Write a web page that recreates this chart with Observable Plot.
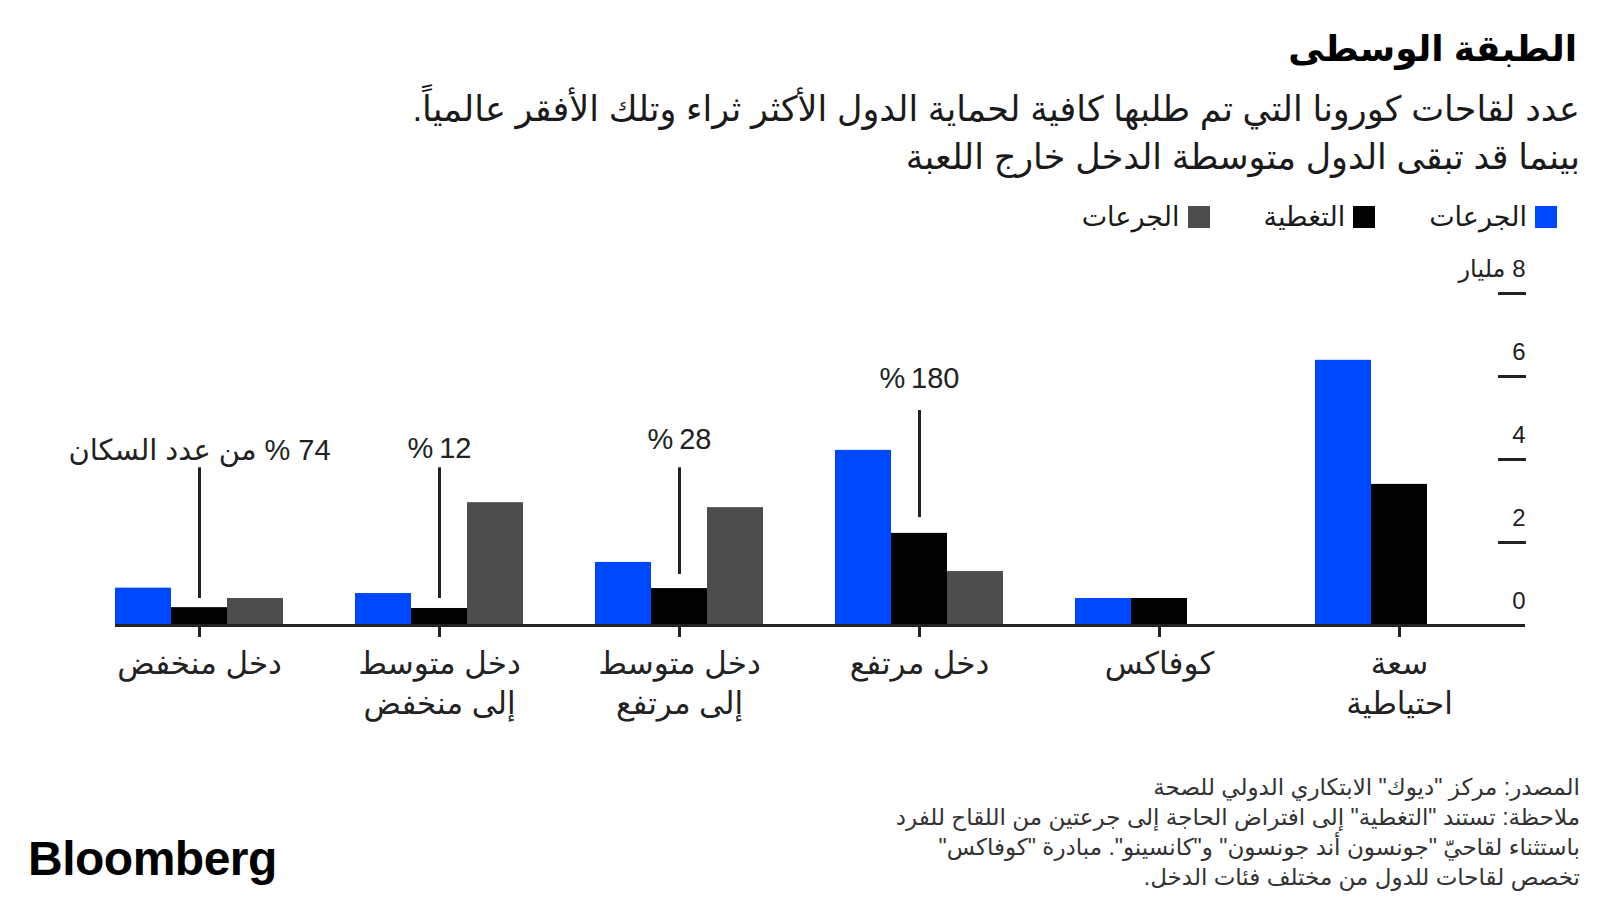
<!DOCTYPE html>
<html lang="ar">
<head>
<meta charset="utf-8">
<script src="https://cdn.jsdelivr.net/npm/d3@7"></script>
<script src="https://cdn.jsdelivr.net/npm/@observablehq/plot@0.6"></script>
<style>
  html, body { margin: 0; padding: 0; background: #fff; }
  #page { position: relative; width: 1600px; height: 900px; overflow: hidden; background: #fff;
          font-family: "Liberation Sans", "DejaVu Sans", sans-serif; color: #1a1a1a; }
  .abs { position: absolute; }
  #title { right: 23px; top: 26px; font-size: 36px; font-weight: 700; line-height: 46px; direction: rtl; color: #000; }
  #subtitle { right: 20px; top: 85px; font-size: 35px; line-height: 48px; direction: rtl; text-align: right; color: #1a1a1a; }
  #legend { right: 43px; top: 203px; display: flex; direction: rtl; gap: 54px; font-size: 27px; line-height: 28px; color: #1a1a1a; }
  .item { display: flex; align-items: center; gap: 8px; }
  .sw { width: 22px; height: 22px; display: inline-block; }
  #chart { left: 0; top: 240px; }
  #notes { right: 20px; top: 772px; font-size: 23px; line-height: 30px; direction: rtl; text-align: right; color: #333; }
  #logo { left: 28px; top: 833px; font-size: 48px; font-weight: 700; line-height: 52px; letter-spacing: -0.5px; color: #000; }
</style>
</head>
<body>
<div id="page">
  <div id="title" class="abs"></div>
  <div id="subtitle" class="abs"></div>
  <div id="legend" class="abs"></div>
  <div id="chart" class="abs"></div>
  <div id="notes" class="abs"></div>
  <div id="logo" class="abs">Bloomberg</div>
</div>
<script>
// ---------- data ----------
const titleText = "الطبقة الوسطى";
const subtitleLines = [
  "عدد لقاحات كورونا التي تم طلبها كافية لحماية الدول الأكثر ثراء وتلك الأفقر عالمياً.",
  "بينما قد تبقى الدول متوسطة الدخل خارج اللعبة"
];
const groups = ["دخل منخفض", "دخل متوسط إلى منخفض", "دخل متوسط إلى مرتفع", "دخل مرتفع", "كوفاكس", "سعة احتياطية"];
const groupTickLabels = ["دخل منخفض", "دخل متوسط\nإلى منخفض", "دخل متوسط\nإلى مرتفع", "دخل مرتفع", "كوفاكس", "سعة\nاحتياطية"];
const seriesKeys = ["doses_blue", "coverage", "doses_gray"];
const seriesLabels = ["الجرعات", "التغطية", "الجرعات"];
const seriesColors = ["#0048ff", "#000000", "#4d4d4d"];
const dosesBlue = [0.90, 0.77, 1.52, 4.22, 0.65, 6.39];
const coverage  = [0.43, 0.41, 0.89, 2.22, 0.65, 3.40];
const dosesGray = [0.65, 2.96, 2.84, 1.30, null, null];
const yTicks = [0, 2, 4, 6, 8];
const yTickLabels = ["0", "2", "4", "6", "8 مليار"];
const annoGroups = ["دخل منخفض", "دخل متوسط إلى منخفض", "دخل متوسط إلى مرتفع", "دخل مرتفع"];
const annoLabels = ["74 % من عدد السكان", "12\u2009%", "28\u2009%", "180\u2009%"];
const annoTop    = [3.80, 3.80, 3.80, 5.18];
const annoBottom = [0.65, 0.65, 1.23, 2.60];
const annoLabelY = [4.20, 4.25, 4.48, 5.95];
const noteLines = [
  "المصدر: مركز \"ديوك\" الابتكاري الدولي للصحة",
  "ملاحظة: تستند \"التغطية\" إلى افتراض الحاجة إلى جرعتين من اللقاح للفرد",
  "باستثناء لقاحيّ \"جونسون أند جونسون\" و\"كانسينو\". مبادرة \"كوفاكس\"",
  "تخصص لقاحات للدول من مختلف فئات الدخل."
];

// ---------- text blocks ----------
document.getElementById("title").textContent = titleText;
document.getElementById("subtitle").innerHTML = subtitleLines.map(s => `<div>${s}</div>`).join("");
document.getElementById("notes").innerHTML = noteLines.map(s => `<div>${s.replace(/"/g, "&quot;")}</div>`).join("");
const legend = document.getElementById("legend");
seriesKeys.forEach((k, i) => {
  const it = document.createElement("div");
  it.className = "item";
  it.innerHTML = `<span class="sw" style="background:${seriesColors[i]}"></span><span>${seriesLabels[i]}</span>`;
  legend.appendChild(it);
});

// ---------- tables ----------
const seriesValues = [dosesBlue, coverage, dosesGray];
const rows = [];
groups.forEach((g, i) => seriesKeys.forEach((k, j) => {
  const v = seriesValues[j][i];
  if (v != null) rows.push({group: g, series: k, value: v});
}));
const annos = annoGroups.map((g, i) => ({
  group: g, series: seriesKeys[1], label: annoLabels[i],
  top: annoTop[i], bottom: annoBottom[i], labelY: annoLabelY[i]
}));
const baseRows = groups.map(g => ({group: g, value: 0}));
const RLE = "\u202B", PDF = "\u202C";
const ink = "#222";
const baseStyle = {fx: "group", y: "value", stroke: ink, strokeWidth: 3};

const chart = Plot.plot({
  width: 1600,
  height: 500,
  marginLeft: 101,
  marginRight: 103,
  marginTop: 53,
  marginBottom: 115,
  style: {fontFamily: '"Liberation Sans", "DejaVu Sans", sans-serif', color: ink, background: "transparent"},
  fx: {domain: groups, paddingInner: 0.3, paddingOuter: 14 / 240, label: null},
  x: {domain: seriesKeys, padding: 0, axis: null},
  y: {domain: [0, 8], axis: null},
  color: {domain: seriesKeys, range: seriesColors},
  marks: [
    Plot.barY(rows, {fx: "group", x: "series", y: "value", fill: "series"}),
    // baseline: continuous across facet gaps
    Plot.ruleY(baseRows.slice(0, 1), {...baseStyle, insetLeft: 0, insetRight: -37}),
    Plot.ruleY(baseRows.slice(1, -1), {...baseStyle, insetLeft: -37, insetRight: -37}),
    Plot.ruleY(baseRows.slice(-1), {...baseStyle, insetLeft: -37, insetRight: -42}),
    Plot.axisFx({
      anchor: "bottom", tickSize: 12, tickPadding: 7, strokeWidth: 3, stroke: ink, fill: ink,
      fontSize: 31, lineHeight: 1.32, label: null,
      tickFormat: d => groupTickLabels[groups.indexOf(d)]
    }),
    Plot.axisY({
      anchor: "right", ticks: yTicks.filter(t => t > 0), tickSize: 28, dx: 14,
      stroke: ink, strokeWidth: 3, fill: "none", label: null
    }),
    Plot.axisY({
      anchor: "right", ticks: yTicks, tickSize: 0, tickPadding: 28, dx: 14, dy: -24,
      textAnchor: "end", fontSize: 24, fill: ink, label: null,
      tickFormat: d => RLE + yTickLabels[yTicks.indexOf(d)] + PDF
    }),
    Plot.ruleX(annos, {fx: "group", x: "series", y1: "bottom", y2: "top", stroke: ink, strokeWidth: 3}),
    Plot.text(annos, {fx: "group", x: "series", y: "labelY", text: d => RLE + d.label + PDF, fontSize: 29, fill: ink})
  ]
});
document.getElementById("chart").appendChild(chart);
</script>
</body>
</html>
